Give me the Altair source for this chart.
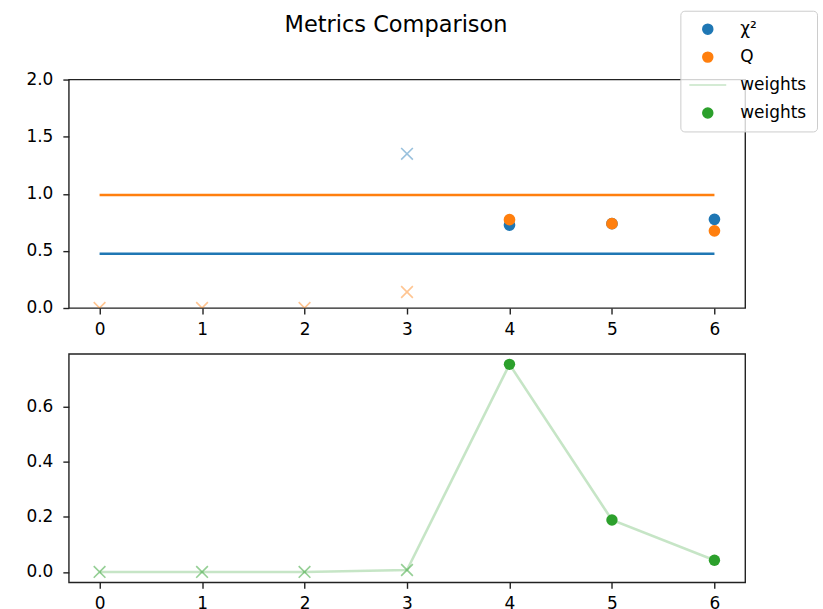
import altair as alt
import pandas as pd

# ---- data -------------------------------------------------------------
steps = [0, 1, 2, 3, 4, 5, 6]
chi2_vals = [None, None, None, 1.35, 0.726, 0.738, 0.776]
q_vals = [0.0, 0.0, 0.0, 0.14, 0.773, 0.738, 0.676]
weight_vals = [0.0, 0.0, 0.0, 0.007, 0.755, 0.189, 0.0425]
accepted = [False, False, False, False, True, True, True]
chi2_level = 0.475
q_level = 0.99
level_start, level_end = 0, 6

BLUE, ORANGE, GREEN = "#1f77b4", "#ff7f0e", "#2ca02c"
LIGHT_GREEN = "#c6e5c6"
FONT = "DejaVu Sans"
X_SHAPE = "M-1,-1L1,1M-1,1L1,-1"

series_keys = ["chi2", "Q", "weights_line", "weights"]
series_colors = [BLUE, ORANGE, LIGHT_GREEN, GREEN]
series_shapes = ["circle", "circle", "M-3.7,0L3.7,0", "circle"]

rows = []
for s, c, ok in zip(steps, chi2_vals, accepted):
    if c is not None:
        rows.append({"step": s, "series": "chi2", "value": c, "ok": ok})
for s, q, ok in zip(steps, q_vals, accepted):
    rows.append({"step": s, "series": "Q", "value": q, "ok": ok})
metrics = pd.DataFrame(rows)
weights = pd.DataFrame({"step": steps, "value": weight_vals, "ok": accepted})
levels = pd.DataFrame({
    "series": ["chi2", "Q"],
    "level": [chi2_level, q_level],
    "start": [level_start, level_start],
    "end": [level_end, level_end],
})

x_scale = alt.Scale(domain=[-0.3, 6.3], nice=False, zero=False)
x_axis = alt.Axis(values=steps, format="d", title=None, labelPadding=8)

color_scale = alt.Scale(domain=series_keys, range=series_colors)
shape_scale = alt.Scale(domain=series_keys, range=series_shapes)
legend = alt.Legend(
    title=None,
    orient="none",
    legendX=613,
    legendY=-69,
    labelExpr="datum.label == 'chi2' ? 'χ²' : datum.label == 'weights_line' ? 'weights' : datum.label",
    labelFont=FONT,
    labelFontSize=17,
    labelColor="black",
    fillColor="rgba(255,255,255,0.8)",
    strokeColor="#cccccc",
    cornerRadius=4,
    padding=10,
    symbolOffset=9,
    labelOffset=24,
    rowPadding=10,
)

# ---- top panel: chi2 and Q ----------------------------------------------
top_y = alt.Y("value:Q", scale=alt.Scale(domain=[0, 2]),
              axis=alt.Axis(values=[0, 0.5, 1.0, 1.5, 2.0], format=".1f", title=None))

chi2_rule = alt.Chart(levels).transform_filter("datum.series == 'chi2'").mark_rule(
    color=BLUE, strokeWidth=2.6).encode(
    x=alt.X("start:Q", scale=x_scale, axis=x_axis), x2="end:Q",
    y=alt.Y("level:Q", scale=alt.Scale(domain=[0, 2])))
q_rule = alt.Chart(levels).transform_filter("datum.series == 'Q'").mark_rule(
    color=ORANGE, strokeWidth=2.6).encode(
    x=alt.X("start:Q", scale=x_scale, axis=x_axis), x2="end:Q",
    y=alt.Y("level:Q"))

faded_chi2 = alt.Chart(metrics).transform_filter(
    "datum.series == 'chi2' && !datum.ok").mark_point(
    shape=X_SHAPE, filled=False, size=137, strokeWidth=1.6, opacity=0.45,
    color=BLUE, clip=True).encode(x=alt.X("step:Q", scale=x_scale, axis=x_axis), y=top_y)
faded_q = alt.Chart(metrics).transform_filter(
    "datum.series == 'Q' && !datum.ok").mark_point(
    shape=X_SHAPE, filled=False, size=137, strokeWidth=1.6, opacity=0.45,
    color=ORANGE, clip=True).encode(x=alt.X("step:Q", scale=x_scale, axis=x_axis), y=top_y)

accepted_pts = alt.Chart(metrics).transform_filter("datum.ok").mark_point(
    filled=True, size=85, strokeWidth=2.5, opacity=1).encode(
    x=alt.X("step:Q", scale=x_scale, axis=x_axis),
    y=top_y,
    color=alt.Color("series:N", scale=color_scale, legend=legend),
    stroke=alt.Stroke("series:N", scale=color_scale, legend=legend),
    shape=alt.Shape("series:N", scale=shape_scale, legend=legend),
)

top = alt.layer(chi2_rule, q_rule, faded_chi2, faded_q, accepted_pts).properties(
    width=678, height=229)

# ---- bottom panel: weights ----------------------------------------------
bot_y = alt.Y("value:Q", scale=alt.Scale(domain=[-0.0378, 0.793], nice=False, zero=False),
              axis=alt.Axis(values=[0, 0.2, 0.4, 0.6], format=".1f", title=None))
bot_x = alt.X("step:Q", scale=x_scale, axis=alt.Axis(values=steps, format="d", title=None, labelPadding=7))

w_line = alt.Chart(weights).mark_line(color=GREEN, opacity=0.27, strokeWidth=2.6).encode(
    x=bot_x, y=bot_y)
w_faded = alt.Chart(weights).transform_filter("!datum.ok").mark_point(
    shape=X_SHAPE, filled=False, size=137, strokeWidth=1.6, opacity=0.5,
    color=GREEN).encode(x=bot_x, y=bot_y)
w_pts = alt.Chart(weights).transform_filter("datum.ok").mark_point(
    filled=True, size=130, strokeWidth=0, opacity=1, color=GREEN).encode(x=bot_x, y=bot_y)

bottom = alt.layer(w_line, w_faded, w_pts).properties(width=678, height=229)

chart = alt.vconcat(top, bottom, spacing=46, bounds="flush").properties(
    title=alt.TitleParams(
        "Metrics Comparison", font=FONT, fontSize=22.5, fontWeight="normal",
        color="black", anchor="middle", frame="group", dx=-11, offset=-26),
    padding={"left": 25, "top": 9, "right": 5, "bottom": 5},
).configure_view(
    stroke="#222222", strokeWidth=1.4
).configure_axis(
    grid=False, domain=False,
    tickColor="#222222", tickWidth=1.4, tickSize=6,
    labelFont=FONT, labelFontSize=17, labelColor="black",
).configure_axisY(labelPadding=10)

chart.save("out.html", embed_options={"renderer": "svg", "actions": False})
